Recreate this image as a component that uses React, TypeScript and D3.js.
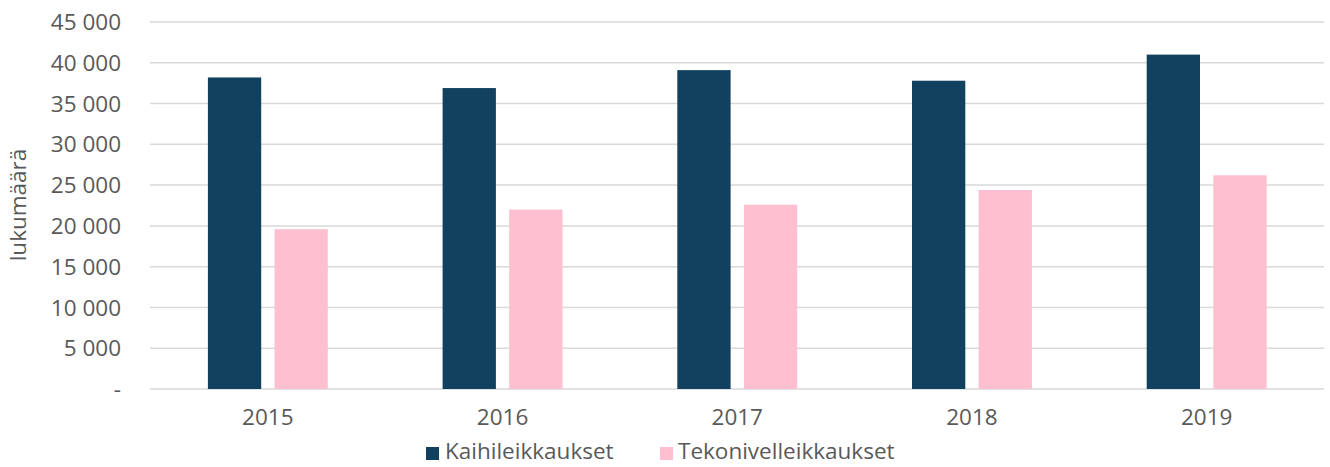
import React from 'react';
import * as d3 from 'd3';

const years = ['2015', '2016', '2017', '2018', '2019'];
const kaihi = [38200, 36900, 39100, 37800, 41000];
const tekonivel = [19600, 22000, 22600, 24400, 26200];
const seriesNames = ['Kaihileikkaukset', 'Tekonivelleikkaukset'];
const colors = ['#12405f', '#fec0d0'];
const yTicks = [0, 5000, 10000, 15000, 20000, 25000, 30000, 35000, 40000, 45000];

const W = 1330;
const H = 467;
const font = '"Open Sans", sans-serif';
const fs = 22.5;

const fmt = (v: number) => (v === 0 ? '-' : d3.format(',')(v).replace(/,/g, ' '));

export default function App() {
  const x = d3.scaleBand().domain(years).range([150.5, 1324]).paddingInner(0).paddingOuter(0);
  const y = d3.scaleLinear().domain([0, 45000]).range([389, 22]);
  const barW = 53.3;
  const gap = 13.3;
  const series = [kaihi, tekonivel];

  return (
    <svg width={W} height={H} style={{ position: 'absolute', left: 0, top: 0 }}>
      <rect width={W} height={H} fill="#fff" />
      {yTicks.map((t) => (
        <g key={t}>
          <line x1={150} x2={1324} y1={y(t)} y2={y(t)} stroke="#d9d9d9" strokeWidth={1.5} />
          <text x={121} y={y(t)} dy="0.36em" textAnchor="end" fontFamily={font} fontSize={fs} fill="#595959">
            {fmt(t)}
          </text>
        </g>
      ))}
      <text
        transform={`translate(26,205) rotate(-90)`}
        textAnchor="middle"
        fontFamily={font}
        fontSize={fs}
        fill="#595959"
      >
        lukumäärä
      </text>
      {years.map((yr, i) => {
        const c = (x(yr) as number) + x.bandwidth() / 2;
        return (
          <g key={yr}>
            {series.map((s, j) => {
              const bx = c - gap / 2 - barW + j * (barW + gap);
              return (
                <rect
                  key={j}
                  x={bx}
                  y={y(s[i])}
                  width={barW}
                  height={y(0) - y(s[i])}
                  fill={colors[j]}
                />
              );
            })}
            <text x={c} y={425} textAnchor="middle" fontFamily={font} fontSize={fs} fill="#595959">
              {yr}
            </text>
          </g>
        );
      })}
      <g fontFamily={font} fontSize={fs} fill="#595959">
        <rect x={426} y={447} width={13} height={13} fill={colors[0]} />
        <text x={445} y={459}>{seriesNames[0]}</text>
        <rect x={660} y={447} width={13} height={13} fill={colors[1]} />
        <text x={678} y={459}>{seriesNames[1]}</text>
      </g>
    </svg>
  );
}
